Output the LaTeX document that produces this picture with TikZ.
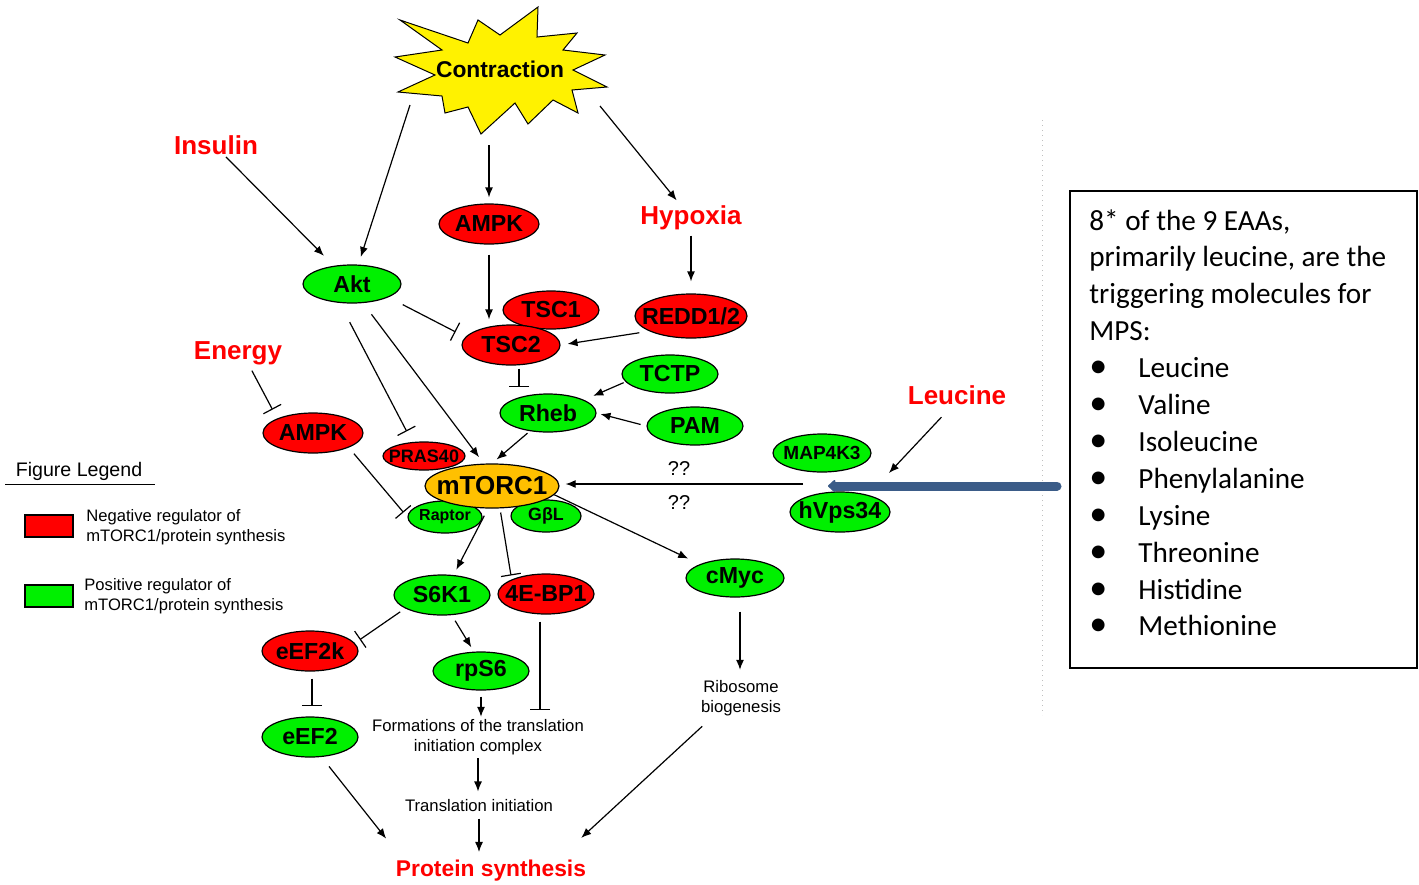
\documentclass[tikz,border=0pt]{standalone}
\usepackage{fontspec}
\setmainfont{Liberation Sans}
\newfontfamily\calibri{Carlito}
\usetikzlibrary{shapes.geometric,arrows.meta}
\definecolor{negred}{RGB}{255,0,0}
\definecolor{posgreen}{RGB}{0,240,0}
\definecolor{mtorfill}{RGB}{255,192,0}
\definecolor{leublue}{RGB}{59,92,136}
\newcommand\lbl[1]{\makebox[0pt]{#1}}
\tikzset{
  fs/.style={font=\bfseries\fontsize{#1}{#1}\selectfont},
  blob/.style 2 args={ellipse, draw, line width=0.6pt, inner sep=0pt,
    minimum width=#1*0.5pt, minimum height=#2*0.5pt, fs=11.6},
  neg/.style 2 args={blob={#1}{#2}, fill=negred},
  pos/.style 2 args={blob={#1}{#2}, fill=posgreen},
  cue/.style={text=negred, fs=13, inner sep=1pt},
  note/.style={font=\fontsize{8.35}{10}\selectfont, align=center, inner sep=1pt},
  act/.style={-{Latex[length=5pt,width=4pt]}, line width=0.6pt},
  inh/.style={-{Bar[width=10pt,line width=0.6pt]}, line width=0.6pt},
  leu/.style={-{Triangle[length=4pt,width=7pt,round]}, line width=4.5pt, leublue, line cap=round},
  eaa/.style={anchor=base west, inner sep=0pt, font=\calibri\fontsize{14.6}{18}\selectfont},
  legtext/.style={anchor=west, align=left, inner sep=0pt, font=\fontsize{8.3}{10}\selectfont},
  key/.style={draw, line width=0.6pt, minimum width=24pt, minimum height=11pt, inner sep=0pt},
}
\begin{document}
\begin{tikzpicture}[x=0.5pt,y=-0.5pt]
\useasboundingbox (0,0) rectangle (1419,884);
\draw[black!25, dotted, line width=0.5pt] (1042,120) -- (1042,715);

% contraction burst
\filldraw[fill=yellow, line width=0.5pt] (400,20) -- (468,43) -- (478,20) -- (500,35) -- (538,7)
  -- (537,37) -- (577,33) -- (563,50) -- (605,55) -- (573,70) -- (607,87) -- (572,90)
  -- (578,113) -- (553,100) -- (528,124) -- (515,103) -- (481,134) -- (468,107) -- (445,113)
  -- (442,96) -- (398,92) -- (435,75) -- (395,57) -- (442,50) -- cycle;
\node[fs=11.4] (contr) at (500,69) {Contraction};
\path (410,105) coordinate (c1) (489,145) coordinate (c2) (600,106) coordinate (c3)
  (803,484) coordinate (junc) (889,473) coordinate (lend)
  (1057,486) coordinate (bfrom) (828,486) coordinate (bto);

\node[cue] (insulin) at (216,145) {Insulin};
\node[cue] (hypoxia) at (691,218) {Hypoxia};
\node[cue] (energy) at (238,353) {Energy};
\node[cue] (leucine) at (957,395) {Leucine};
\node[cue, fs=11.4] (protein) at (491,871) {Protein synthesis};

\node[neg={100}{40}] (ampk1) at (489,224) {\lbl{AMPK}};
\node[pos={98}{38}] (akt) at (352,284) {\lbl{Akt}};
\node[neg={96}{38}] (tsc1) at (551,310) {\lbl{TSC1}};
\node[neg={98}{40}] (tsc2) at (511,345) {\lbl{TSC2}};
\node[neg={112}{44}] (redd) at (691,316) {\lbl{REDD1/2}};
\node[pos={96}{38}] (tctp) at (670,374) {\lbl{TCTP}};
\node[pos={96}{38}] (rheb) at (548,413) {\lbl{Rheb}};
\node[pos={96}{38}] (pam) at (695,426) {\lbl{PAM}};
\node[neg={100}{40}] (ampk2) at (313,433) {\lbl{AMPK}};
\node[neg={82}{28}, fs=9] (pras) at (424,456) {\lbl{PRAS40}};
\node[pos={74}{32}, fs=8] (raptor) at (445,517) {\lbl{Raptor}};
\node[pos={70}{32}, fs=8.9] (gbl) at (546,516) {\lbl{GβL}};
\node[blob={134}{44}, fill=mtorfill, fs=13] (mtorc) at (492,486) {\lbl{mTORC1}};
\node[pos={98}{38}, fs=9.5] (map) at (822,453) {\lbl{MAP4K3}};
\node[pos={100}{40}] (hvps) at (840,512) {\lbl{hVps34}};
\node[pos={96}{40}] (s6k) at (442,595) {\lbl{S6K1}};
\node[neg={96}{40}] (ebp) at (546,594) {\lbl{4E-BP1}};
\node[pos={98}{38}] (cmyc) at (735,578) {\lbl{cMyc}};
\node[neg={96}{40}] (eef2k) at (310,651) {\lbl{eEF2k}};
\node[pos={96}{38}] (rps6) at (481,671) {\lbl{rpS6}};
\node[pos={96}{40}] (eef2) at (310,737) {\lbl{eEF2}};

\node[note] (form) at (478,737) {Formations of the translation\\initiation complex};
\node[note] (transl) at (479,806) {Translation initiation};
\node[note] (ribo) at (741,698) {Ribosome\\biogenesis};
\node[font=\fontsize{10}{10}\selectfont] (q1) at (679,469) {??};
\node[font=\fontsize{10}{10}\selectfont] (q2) at (679,503) {??};

\draw[act, shorten >=4pt] (c1) -- (akt);
\draw[act, shorten >=3pt] (c2) -- (ampk1);
\draw[act, shorten >=2pt] (c3) -- (hypoxia);
\draw[act, shorten >=7pt] ([xshift=5pt]insulin.south) -- (akt.135);
\draw[act, shorten <=1.5pt, shorten >=6pt] (hypoxia) -- (redd);
\draw[act, shorten <=5pt, shorten >=2.5pt] (ampk1) -- (ampk1 |- tsc2.north);
\draw[inh, shorten <=8pt, shorten >=5.5pt] (akt.-20) -- (tsc2.170);
\draw[act, shorten <=5pt, shorten >=3.5pt] (redd.200) -- (tsc2.east);
\draw[inh, shorten <=1.5pt, shorten >=3pt] ([xshift=4pt]tsc2.south) -- ([xshift=4pt]tsc2.south |- rheb.north);
\draw[act, shorten <=1pt, shorten >=5pt] (tctp.190) -- (rheb.20);
\draw[act, shorten <=3pt, shorten >=2pt] (pam.west) -- (rheb.east);
\draw[act, shorten <=1.5pt, shorten >=3pt] (rheb.225) -- (mtorc.north);
\draw[act, shorten <=7pt, shorten >=4pt] (akt.-60) -- (mtorc.110);
\draw[inh, shorten <=10.5pt, shorten >=6pt] ([xshift=-6pt]akt.south) -- (pras.130);
\draw[inh, shorten <=2pt, shorten >=5pt] ([xshift=6pt]energy.south) -- (ampk2.north west);
\draw[inh, shorten <=4pt, shorten >=3pt] (ampk2.south east) -- (raptor.west);
\draw[act, shorten >=3pt] (junc) -- (mtorc.east |- junc);
\draw[act, shorten <=7pt] ([xshift=-3pt]leucine.south) -- (lend);
\draw[leu] (bfrom) -- (bto);
\draw[act, shorten >=6.5pt] (mtorc.-8) -- (cmyc.north west);
\draw[act, shorten <=4pt, shorten >=3pt] ([xshift=-2pt]mtorc.south) -- (s6k.60);
\draw[inh, shorten <=2pt, shorten >=2pt] ([xshift=4pt]mtorc.south) -- (ebp.north west);
\draw[inh, shorten <=3pt, shorten >=3pt] (s6k.200) -- (eef2k.10);
\draw[act, shorten <=3pt, shorten >=2.5pt] ([xshift=5pt]s6k.south) -- (rps6.110);
\draw[act, shorten <=3pt] (rps6) -- (rps6 |- form.north);
\draw[inh, shorten <=3.5pt, shorten >=3.5pt] ([xshift=-3pt]ebp.south) -- ([xshift=-3pt]ebp.south |- form.north);
\draw[inh, shorten <=3.5pt, shorten >=5pt] ([xshift=1pt]eef2k.south) -- ([xshift=1pt]eef2.north);
\draw[act, shorten <=7pt, shorten >=4pt] ([xshift=2.5pt]cmyc.south) -- ([xshift=2.5pt]cmyc.south |- ribo.north);
\draw[act, shorten <=0.5pt, shorten >=3pt] (form) -- (form |- transl.north);
\draw[act, shorten <=2pt, shorten >=3pt] (transl) -- (transl |- protein.north);
\draw[act, shorten <=6pt, shorten >=6pt] (eef2.-60) -- ([yshift=5pt]protein.north west);
\draw[act, shorten <=6pt, shorten >=6pt] ([xshift=-15pt]ribo.south) -- ([xshift=-8pt,yshift=6pt]protein.north east);

% legend
\node[font=\fontsize{9.8}{10}\selectfont, inner sep=1pt] (legtitle) at (79,471) {Figure Legend};
\draw[line width=0.6pt] ([xshift=-4pt,yshift=-1pt]legtitle.south west) -- ([xshift=5pt,yshift=-1pt]legtitle.south east);
\node[key, fill=negred] (kneg) at (49,526) {};
\node[legtext] (tneg) at (86,527) {Negative regulator of\\mTORC1/protein synthesis};
\node[key, fill=posgreen] (kpos) at (49,596) {};
\node[legtext] (tpos) at (84,596) {Positive regulator of\\mTORC1/protein synthesis};

% amino acid box
\node[draw, line width=0.75pt, minimum width=173.5pt, minimum height=238.5pt, inner sep=0pt, anchor=north west] (eaabox) at (1069,190) {};
\foreach \txt [count=\i from 0] in {{8* of the 9 EAAs,},{primarily leucine, are the},{triggering molecules for},{MPS:}}
  \node[eaa] (hd\i) at (1089,230+36.9*\i) {\txt};
\foreach \aa [count=\i from 4] in {Leucine,Valine,Isoleucine,Phenylalanine,Lysine,Threonine,Histidine,Methionine}
  \node[eaa] (aa\i) at (1089,230+36.9*\i) {\makebox[24.5pt][l]{\fontsize{18}{18}\selectfont\textbullet}\aa};
\end{tikzpicture}
\end{document}
